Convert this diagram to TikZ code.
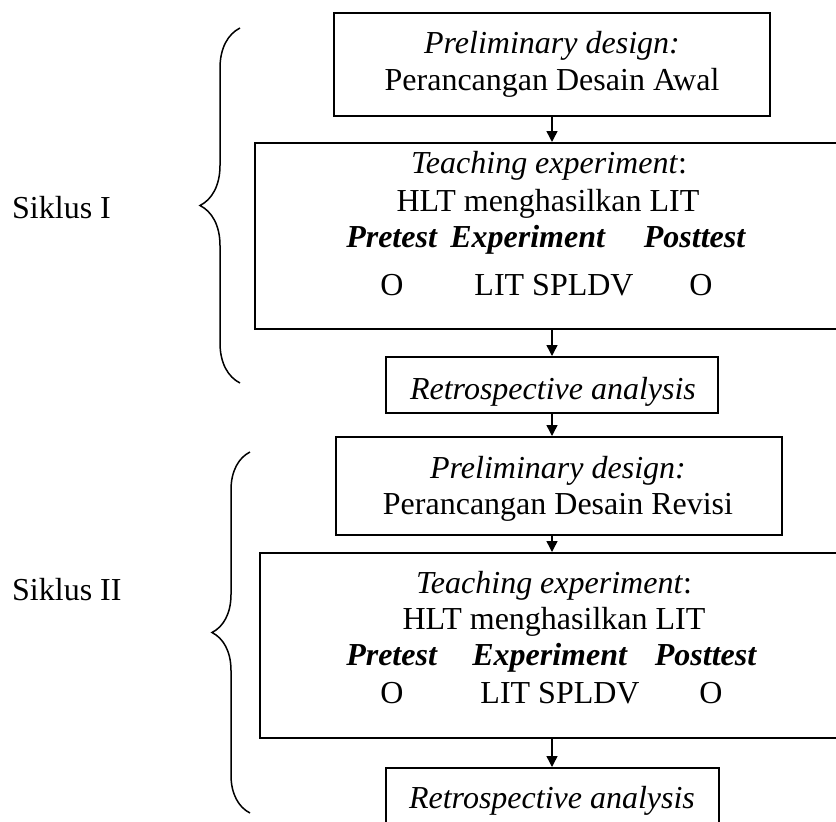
\documentclass[tikz,border=0pt]{standalone}
\usepackage{fontspec}
\setmainfont{Liberation Serif}
\usetikzlibrary{arrows.meta,decorations.pathreplacing}
\begin{document}
\begin{tikzpicture}[x=1pt, y=-1pt, font=\fontsize{32}{36}\selectfont]
\tikzstyle{box_style} = [draw=black, line width=2pt, rectangle, inner sep=0pt]
\tikzstyle{text_style} = [anchor=base, inner sep=0pt]
\tikzstyle{edge_style} = [draw=black, line width=1.5pt, -{Triangle[width=11pt,length=11pt]}]
\tikzstyle{brace_style} = [draw=black, line width=1.5pt, decorate]

\useasboundingbox (0,0) rectangle (836,822);
\clip (0,0) rectangle (836,822);

% Siklus I
\node[box_style, minimum width=436pt, minimum height=103pt] (b1) at (552,64.5) {};
\node[box_style, minimum width=594pt, minimum height=186pt] (b2) at (552,236) {};
\node[box_style, minimum width=332pt, minimum height=56pt] (r1) at (552,385) {};

\node[text_style] (t1a) at (552,53) {\textit{Preliminary design:}};
\node[text_style] (t1b) at (552,90) {Perancangan Desain Awal};
\node[text_style] (t2a) at (549,173) {\textit{Teaching experiment}:};
\node[text_style] (t2b) at (548,211) {HLT menghasilkan LIT};
\node[text_style] (t2c) at (392,247) {\textbf{\textit{Pretest}}};
\node[text_style] (t2d) at (528,247) {\textbf{\textit{Experiment}}};
\node[text_style] (t2e) at (695,247) {\textbf{\textit{Posttest}}};
\node[text_style] (t2f) at (392,295) {O};
\node[text_style] (t2g) at (554,295) {LIT SPLDV};
\node[text_style] (t2h) at (701,295) {O};
\node[text_style] (t3) at (553,399) {\textit{Retrospective analysis}};

% Siklus II
\node[box_style, minimum width=446pt, minimum height=98pt] (b3) at (559,486) {};
\node[box_style, minimum width=584pt, minimum height=185pt] (b4) at (552,645.5) {};
\node[box_style, minimum width=333pt, minimum height=80pt] (r2) at (552,808) {};

\node[text_style] (t4a) at (558,478) {\textit{Preliminary design:}};
\node[text_style] (t4b) at (558,514) {Perancangan Desain Revisi};
\node[text_style] (t5a) at (554,593) {\textit{Teaching experiment}:};
\node[text_style] (t5b) at (554,629) {HLT menghasilkan LIT};
\node[text_style] (t5c) at (392,665) {\textbf{\textit{Pretest}}};
\node[text_style] (t5d) at (550,665) {\textbf{\textit{Experiment}}};
\node[text_style] (t5e) at (706,665) {\textbf{\textit{Posttest}}};
\node[text_style] (t5f) at (392,703) {O};
\node[text_style] (t5g) at (560,703) {LIT SPLDV};
\node[text_style] (t5h) at (711,703) {O};
\node[text_style] (t6) at (552,808) {\textit{Retrospective analysis}};

% arrows
\draw[edge_style] (b1.south) -- (b2.north);
\draw[edge_style] (b2.south) -- (r1.north);
\draw[edge_style] (r1.south) -- (r1.south |- b3.north);
\draw[edge_style] (b3.south -| b4.north) -- (b4.north);
\draw[edge_style] (b4.south) -- (r2.north);

% braces
\node[text_style, anchor=base west] (s1) at (12,218) {Siklus I};
\node[text_style, anchor=base west] (s2) at (12,600) {Siklus II};
\draw[brace_style, decoration={brace, amplitude=40pt}] (240,383) -- (240,28);
\draw[brace_style, decoration={brace, amplitude=38pt}] (250,813) -- (250,452);
\end{tikzpicture}
\end{document}
